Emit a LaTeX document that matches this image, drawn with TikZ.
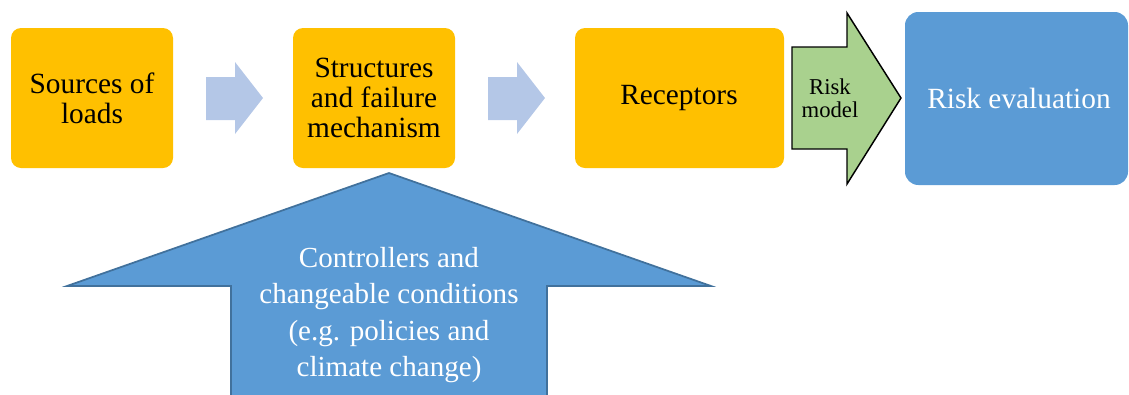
\documentclass[tikz,border=0pt]{standalone}
\usepackage{fontspec}
\setmainfont{Liberation Serif}
\definecolor{orangebox}{HTML}{FFC000}
\definecolor{bluebox}{HTML}{5B9BD5}
\definecolor{bluedark}{HTML}{41719C}
\definecolor{lightarrow}{HTML}{B4C7E7}
\definecolor{greenarrow}{HTML}{A9D18E}
\begin{document}
\begin{tikzpicture}[x=0.75pt,y=-0.75pt,
  orangestyle/.style={fill=orangebox,rounded corners=7.5pt},
  bluestyle/.style={fill=bluebox,rounded corners=10pt},
  lightstyle/.style={fill=lightarrow},
  bigtext/.style={font=\fontsize{22}{22.5}\selectfont,align=center,text=black},
  whitetext/.style={font=\fontsize{21.8}{27.25}\selectfont,align=center,text=white},
  smalltext/.style={font=\fontsize{17}{17.5}\selectfont,align=center,text=black}]
\useasboundingbox (0,0) rectangle (1129,394);
\clip (0,0) rectangle (1129,394);
% boxes
\fill[orangestyle] (11,28) rectangle (173,168);
\fill[orangestyle] (293,28) rectangle (455,168);
\fill[orangestyle] (575,28) rectangle (784,168);
\fill[bluestyle] (905,12) rectangle (1128,185);
% light arrows
\fill[lightstyle] (206,77) -- (235,77) -- (235,62) -- (263,98) -- (235,134) -- (235,120) -- (206,120) -- cycle;
\fill[lightstyle] (488,77) -- (517,77) -- (517,62) -- (545,98) -- (517,134) -- (517,120) -- (488,120) -- cycle;
% green arrow
\draw[fill=greenarrow,draw=black,line width=1.1pt,line join=miter] (792,47) -- (847,47) -- (847,13) -- (901,98) -- (847,184) -- (847,149) -- (792,149) -- cycle;
% big up arrow
\draw[fill=bluebox,draw=bluedark,line width=1.3pt,line join=miter] (231,400) -- (231,286) -- (67,286) -- (389,173) -- (711,286) -- (547,286) -- (547,400) -- cycle;
% texts
\node[bigtext] (src) at (92,98) {Sources of\\loads};
\node[bigtext] (str) at (374,98) {Structures\\and failure\\mechanism};
\node[bigtext] (rec) at (679,98) {Receptors};
\node[bigtext,text=white] (eval) at (1019,98) {Risk evaluation};
\node[smalltext] (model) at (830,98) {Risk\\model};
\node[whitetext] (ctrl) at (389,315) {Controllers and\\changeable conditions\\(e.g. policies and\\climate change)};
\end{tikzpicture}
\end{document}
